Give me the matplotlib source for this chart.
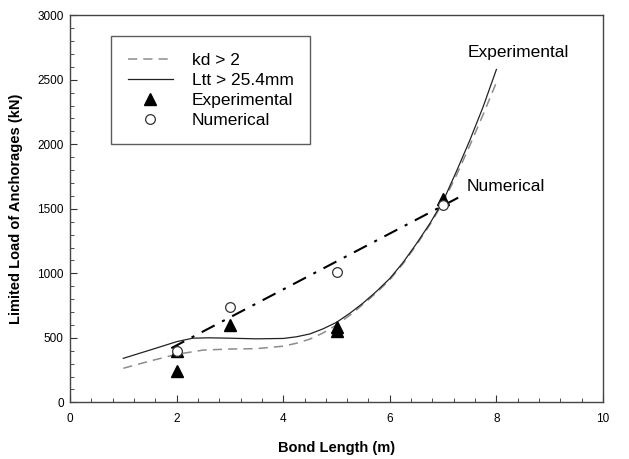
import numpy as np
import matplotlib.pyplot as plt
from matplotlib.ticker import MultipleLocator

# дані
x_kd = [1.0, 1.5, 2.0, 2.5, 3.0, 3.5, 4.0, 4.25, 4.5, 4.75, 5.0, 5.25, 5.5, 5.75, 6.0, 6.25, 6.5, 6.75, 7.0, 7.25, 7.5, 7.75, 8.0]
y_kd = [264, 320, 372, 405, 413, 416, 435, 458, 490, 538, 600, 675, 760, 850, 950, 1075, 1220, 1375, 1550, 1760, 1990, 2230, 2480]

x_ltt = [1.0, 1.5, 2.0, 2.3, 2.6, 3.0, 3.5, 4.0, 4.25, 4.5, 4.75, 5.0, 5.25, 5.5, 5.75, 6.0, 6.25, 6.5, 6.75, 7.0, 7.25, 7.5, 7.75, 8.0]
y_ltt = [341, 405, 470, 497, 500, 497, 492, 495, 508, 530, 570, 620, 690, 770, 860, 960, 1085, 1230, 1385, 1560, 1790, 2030, 2290, 2580]

x_exp = [2, 2, 3, 5, 5, 7]
y_exp = [243, 400, 597, 586, 552, 1575]

x_num = [2, 3, 5, 7]
y_num = [400, 736, 1012, 1530]

# лінія тренду чисельних результатів
x_trend = [1.9, 7.3]
y_trend = [420, 1590]

plt.rcParams['font.family'] = ['Liberation Sans', 'DejaVu Sans']

fig = plt.figure(figsize=(6.29, 4.59), dpi=100)
ax = fig.add_axes([0.1113, 0.1235, 0.8474, 0.8432])

ax.plot(x_kd, y_kd, color='#8c8c8c', linestyle=(0, (6, 4)), linewidth=1.1, label='kd > 2')
ax.plot(x_ltt, y_ltt, color='#222222', linewidth=0.9, label='Ltt > 25.4mm')
ax.plot(x_trend, y_trend, color='black', linewidth=1.5, linestyle=(0, (7, 4, 1.5, 4)))
ax.plot(x_exp, y_exp, linestyle='none', marker='^', markersize=8.5, color='black', label='Experimental')
ax.plot(x_num, y_num, linestyle='none', marker='o', markersize=7, markerfacecolor='white',
        markeredgecolor='#333333', markeredgewidth=0.9, label='Numerical')

ax.text(8.42, 2715, 'Experimental', fontsize=12.5, ha='center', va='center')
ax.text(7.45, 1675, 'Numerical', fontsize=12.5, ha='left', va='center')

ax.set_xlim(0, 10)
ax.set_ylim(0, 3000)
ax.xaxis.set_major_locator(MultipleLocator(2))
ax.xaxis.set_minor_locator(MultipleLocator(0.4))
ax.yaxis.set_major_locator(MultipleLocator(500))
ax.yaxis.set_minor_locator(MultipleLocator(100))
ax.tick_params(which='both', direction='in', top=False, right=False, labelsize=8.5, color='#333333')
ax.tick_params(which='major', length=5)
ax.tick_params(which='minor', length=3)
ax.tick_params(axis='x', which='major', pad=8)
ax.tick_params(axis='y', which='major', pad=4.5)
for sp in ax.spines.values():
    sp.set_color('#444444')
    sp.set_linewidth(1.0)

ax.set_xlabel('Bond Length (m)', fontsize=10.5, fontweight='bold', labelpad=11)
ax.set_ylabel('Limited Load of Anchorages (kN)', fontsize=10.5, fontweight='bold', labelpad=10)

leg = ax.legend(loc='upper left', bbox_to_anchor=(0.077, 0.9465), borderaxespad=0, fontsize=12.5,
                frameon=True, fancybox=False, edgecolor='#333333', handlelength=2.6, borderpad=0.95,
                labelspacing=0.28, handletextpad=1.1)
leg.get_frame().set_linewidth(1.0)

plt.savefig('out.png', dpi=100)
